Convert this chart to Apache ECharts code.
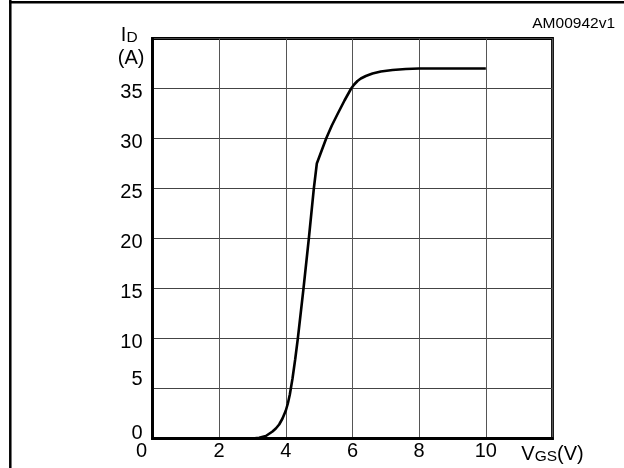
<!DOCTYPE html>
<html>
<head>
<meta charset="utf-8">
<script src="https://cdn.jsdelivr.net/npm/echarts@6/dist/echarts.min.js"></script>
<style>
html,body{margin:0;padding:0;background:#fff;}
#c{width:624px;height:468px;}
</style>
</head>
<body>
<div id="c"></div>
<script>
// VGS (V)
var vgs = [0, 2, 3.0, 3.2, 3.4, 3.6, 3.7, 3.8, 3.9, 4.0, 4.06, 4.12, 4.2, 4.28, 4.36, 4.53, 4.69, 4.84, 4.93, 5.21, 5.38, 5.56, 5.76, 5.96, 6.05, 6.15, 6.25, 6.4, 6.6, 6.85, 7.2, 7.6, 8, 9, 10];
// ID (A)
var id = [0, 0, 0, 0.08, 0.25, 0.7, 1.0, 1.4, 2.0, 2.8, 3.5, 4.4, 6.0, 7.9, 10, 15, 20, 25, 27.5, 30, 31.3, 32.5, 33.8, 35, 35.4, 35.75, 36.0, 36.25, 36.5, 36.7, 36.85, 36.95, 37, 37, 37];
var xTicks = [0, 2, 4, 6, 8, 10];
var yTicks = [0, 5, 10, 15, 20, 25, 30, 35];

var FONT = 'Liberation Sans, Arial, sans-serif';
var FS = 20;
var chart = echarts.init(document.getElementById('c'), null, {renderer: 'canvas'});
var pts = vgs.map(function (v, i) { return [v, id[i]]; });

chart.setOption({
  animation: false,
  backgroundColor: '#fff',
  grid: {left: 152.5, right: 71.5, top: 38.5, bottom: 29.5, show: true, borderColor: '#000', borderWidth: 2.8, containLabel: false},
  xAxis: {
    type: 'value', min: 0, max: 12, interval: 2,
    axisLine: {show: true, onZero: false, lineStyle: {color: '#000', width: 2.8}},
    axisTick: {show: false},
    splitLine: {show: true, lineStyle: {color: '#555', width: 1}},
    axisLabel: {
      margin: 3, color: '#000', fontFamily: FONT, fontSize: FS,
      formatter: function (v) {
        if (xTicks.indexOf(v) < 0) return '';
        return v === 0 ? '{z|0}' : '{n|' + v + '}';
      },
      rich: {
        z: {fontFamily: FONT, fontSize: FS, color: '#000', padding: [0, 22, 0, 0]},
        n: {fontFamily: FONT, fontSize: FS, color: '#000'}
      }
    },
    name: '{v|V}{s|GS}{v|(V)}',
    nameLocation: 'end', nameGap: 0,
    nameTextStyle: {
      align: 'center', verticalAlign: 'top', padding: [3, 0, 0, 0],
      rich: {
        v: {fontFamily: FONT, fontSize: FS, color: '#000', lineHeight: 23, verticalAlign: 'bottom'},
        s: {fontFamily: FONT, fontSize: 15.5, color: '#000', lineHeight: 23, verticalAlign: 'bottom'}
      }
    }
  },
  yAxis: {
    type: 'value', min: 0, max: 40, interval: 5,
    axisLine: {show: true, onZero: false, lineStyle: {color: '#000', width: 2.8}},
    axisTick: {show: false},
    splitLine: {show: true, lineStyle: {color: '#444', width: 1}},
    axisLabel: {
      margin: 10, color: '#000', fontFamily: FONT, fontSize: FS,
      formatter: function (v) {
        if (yTicks.indexOf(v) < 0) return '';
        if (v === 0) return '{c|0}';
        if (v === 5) return '{b|5}';
        return '{a|' + v + '}';
      },
      rich: {
        a: {fontFamily: FONT, fontSize: FS, color: '#000', padding: [8, 0, 0, 0]},
        b: {fontFamily: FONT, fontSize: FS, color: '#000', padding: [0, 0, 18, 0]},
        c: {fontFamily: FONT, fontSize: FS, color: '#000', padding: [0, 0, 10, 0]}
      }
    },
    name: '{i|I}{s|D}\n{p|(A)}',
    nameLocation: 'end', nameGap: 18,
    nameTextStyle: {
      align: 'right', verticalAlign: 'top', padding: [0, 8, 0, 0],
      rich: {
        i: {fontFamily: FONT, fontSize: FS, color: '#000', lineHeight: 25, align: 'left', verticalAlign: 'bottom', padding: [0, 0, 0, 3]},
        s: {fontFamily: FONT, fontSize: 15.5, color: '#000', lineHeight: 25, align: 'left', verticalAlign: 'bottom'},
        p: {fontFamily: FONT, fontSize: FS, color: '#000', lineHeight: 25, align: 'left'}
      }
    }
  },
  graphic: [
    {type: 'line', shape: {x1: 10.3, y1: 0, x2: 10.3, y2: 468}, style: {stroke: '#000', lineWidth: 2.5}, z: 10},
    {type: 'line', shape: {x1: 9, y1: 2.3, x2: 624, y2: 2.3}, style: {stroke: '#000', lineWidth: 2.5}, z: 10},
    {type: 'text', right: 9, top: 16, style: {text: 'AM00942v1', font: '15.5px Liberation Sans, Arial, sans-serif', fill: '#000'}}
  ],
  series: [{
    type: 'line', data: pts, showSymbol: false, smooth: false, clip: false,
    lineStyle: {color: '#000', width: 2.6}, z: 5
  }]
});
</script>
</body>
</html>
